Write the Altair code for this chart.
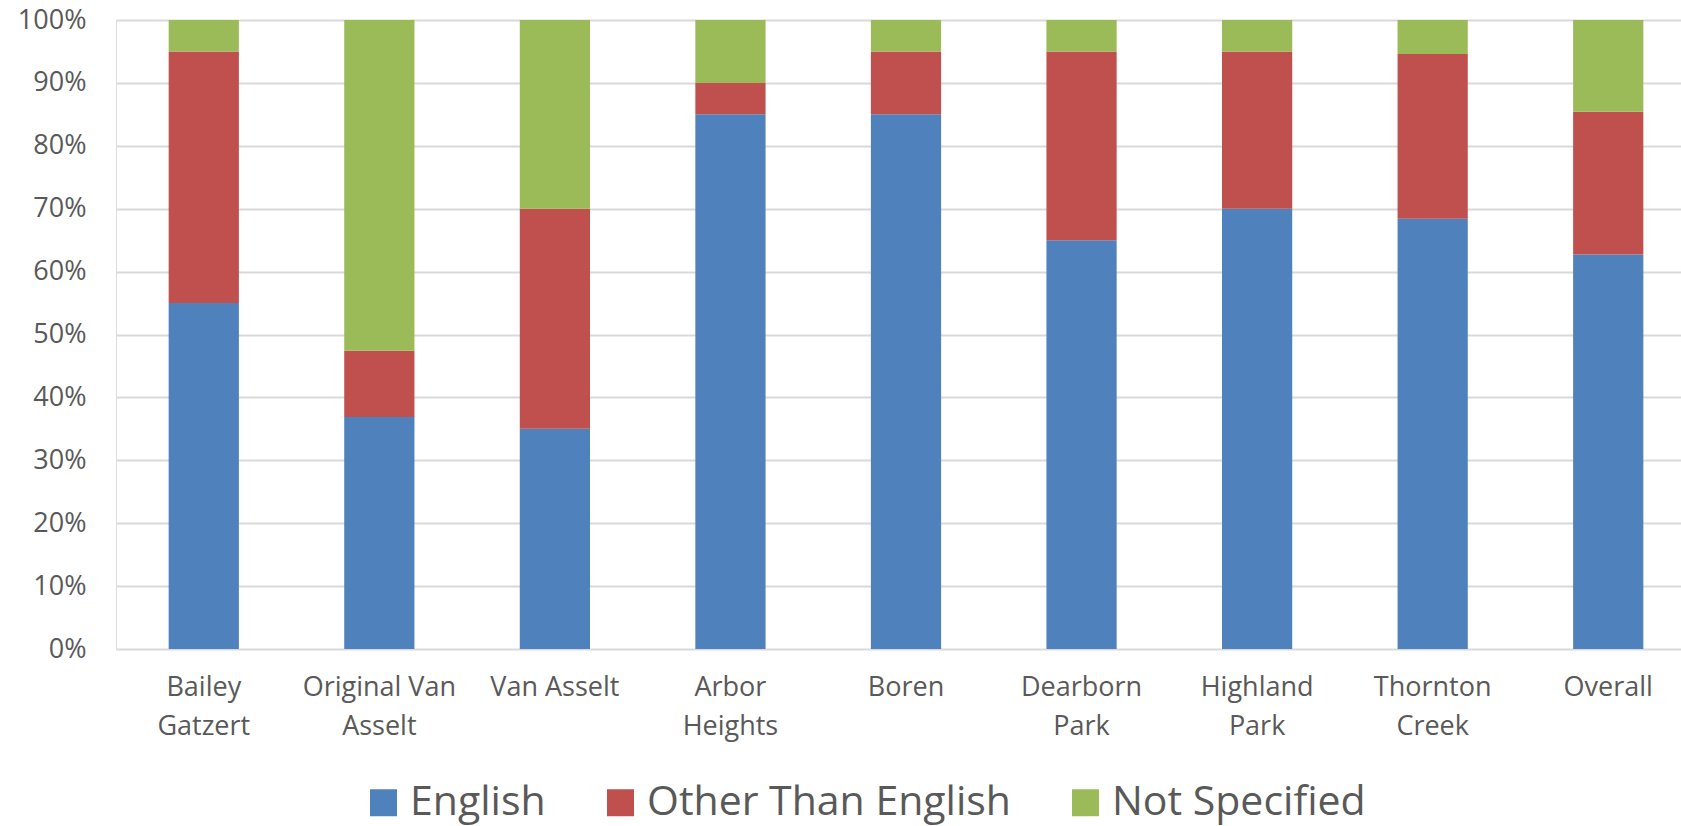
import altair as alt
import pandas as pd

# School names; "\n" marks where the axis label wraps
schools = [
    "Bailey\nGatzert",
    "Original Van\nAsselt",
    "Van Asselt",
    "Arbor\nHeights",
    "Boren",
    "Dearborn\nPark",
    "Highland\nPark",
    "Thornton\nCreek",
    "Overall",
]

# Share of students by home language (percent of each school)
english = [55.0, 36.9, 35.0, 85.0, 85.0, 65.0, 70.0, 68.4, 62.7]
other_than_english = [40.0, 10.5, 35.0, 5.0, 10.0, 30.0, 25.0, 26.2, 22.7]
not_specified = [5.0, 52.6, 30.0, 10.0, 5.0, 5.0, 5.0, 5.4, 14.6]

series = ["English", "Other Than English", "Not Specified"]
colors = ["#4F81BD", "#C0504D", "#9BBB59"]

rows = []
for i, values in enumerate([english, other_than_english, not_specified]):
    for school, v in zip(schools, values):
        rows.append({"school": school, "language": series[i], "order": i, "pct": v})
df = pd.DataFrame(rows)

FONT = "Open Sans"
TEXT = "#595959"
GRID = "#d9d9d9"

chart = (
    alt.Chart(df)
    .mark_bar()
    .encode(
        x=alt.X(
            "school:N",
            sort=schools,
            scale=alt.Scale(range=[0, 1580], paddingInner=0.6, paddingOuter=0.3),
            axis=alt.Axis(
                title=None,
                labelExpr="split(datum.label, '\\n')",
                labelAngle=0,
                labelFont=FONT,
                labelFontSize=27,
                labelColor=TEXT,
                labelLineHeight=39,
                labelPadding=25,
                labelBaseline="top",
                ticks=False,
                tickSize=0,
                domain=False,
                grid=False,
                labelLimit=400,
            ),
        ),
        y=alt.Y(
            "pct:Q",
            stack="zero",
            scale=alt.Scale(domain=[0, 100], nice=False),
            axis=alt.Axis(
                title=None,
                values=list(range(0, 101, 10)),
                labelExpr="datum.value + '%'",
                labelFont=FONT,
                labelFontSize=27,
                labelColor=TEXT,
                labelPadding=30,
                ticks=False,
                tickSize=0,
                domain=False,
                grid=True,
                gridColor=GRID,
                gridWidth=2,
            ),
        ),
        color=alt.Color(
            "language:N",
            sort=series,
            scale=alt.Scale(domain=series, range=colors),
            legend=alt.Legend(
                title=None,
                orient="none",
                legendX=247,
                legendY=762,
                direction="horizontal",
                symbolType="square",
                symbolSize=729,
                symbolStrokeWidth=0,
                symbolOpacity=1,
                labelFont=FONT,
                labelFontSize=41,
                labelColor=TEXT,
                labelOffset=6,
                labelLimit=600,
                columnPadding=54,
            ),
        ),
        order=alt.Order("order:Q", sort="ascending"),
    )
    .properties(
        width=1565,
        height=629,
        autosize=alt.AutoSizeParams(type="none"),
        padding={"left": 116, "top": 20, "right": 0, "bottom": 177},
    )
    .configure_view(stroke=None)
    .configure(background="white")
)

chart.save("out.html", embed_options={"renderer": "svg", "actions": False})
